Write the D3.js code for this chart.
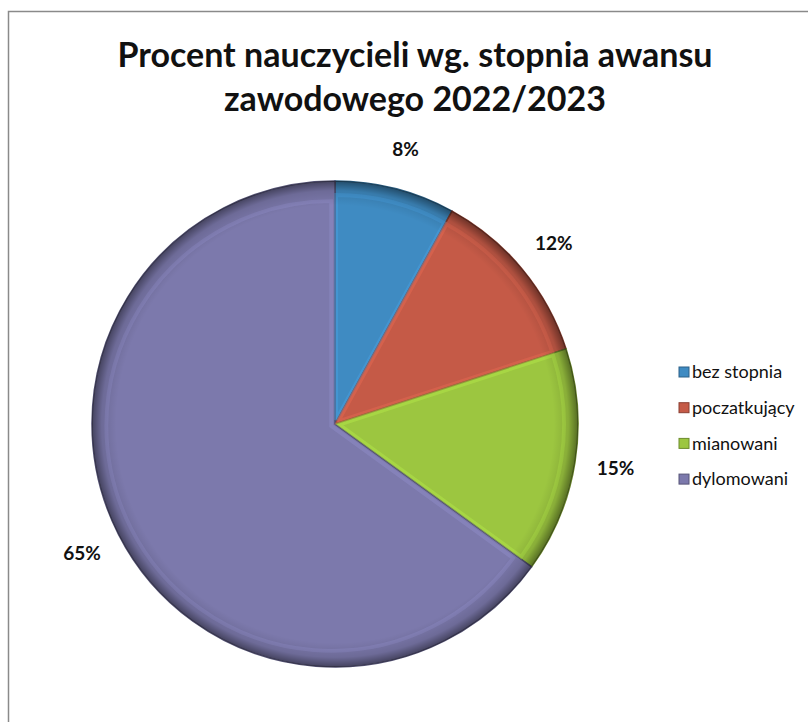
<!DOCTYPE html>
<html lang="pl">
<head>
<meta charset="utf-8">
<title>Procent nauczycieli</title>
<script src="https://cdn.jsdelivr.net/npm/d3@7"></script>
<style>
  body { margin: 0; background: #fff; }
  text { font-family: Lato, "Open Sans", sans-serif; }
</style>
</head>
<body>
<script>
// data
var categories = ["bez stopnia", "poczatkujący", "mianowani", "dylomowani"];
var values = [8, 12, 15, 65];
var colors = ["#3f8bc2", "#c55a47", "#9cc640", "#7c79ac"];
var titleLines = ["Procent nauczycieli wg. stopnia awansu", "zawodowego 2022/2023"];

var w = 808, h = 722;
var cx = 335, cy = 424, r = 243;

var svg = d3.select("body").append("svg")
    .attr("width", w)
    .attr("height", h);

// chart frame (cut off on right and bottom in the scan)
svg.append("path")
    .attr("d", "M8.5," + h + " V11.5 H" + w)
    .attr("fill", "none")
    .attr("stroke", "#8a8a8a")
    .attr("stroke-width", 1.5);

// title
svg.selectAll("text.title")
    .data(titleLines)
    .enter()
    .append("text")
    .attr("class", "title")
    .attr("x", 415)
    .attr("y", function(d, i) { return 67 + i * 44; })
    .attr("text-anchor", "middle")
    .attr("font-size", "34px")
    .attr("font-weight", "bold")
    .attr("fill", "#111")
    .text(function(d) { return d; });

var defs = svg.append("defs");
var grad = defs.append("radialGradient")
    .attr("id", "rim")
    .attr("cx", "50%").attr("cy", "50%").attr("r", "50%");
grad.append("stop").attr("offset", "0%").attr("stop-color", "#000").attr("stop-opacity", 0);
grad.append("stop").attr("offset", "90%").attr("stop-color", "#000").attr("stop-opacity", 0);
grad.append("stop").attr("offset", "96%").attr("stop-color", "#000").attr("stop-opacity", 0.12);
grad.append("stop").attr("offset", "100%").attr("stop-color", "#000").attr("stop-opacity", 0.45);

var pie = d3.pie().sort(null).value(function(d) { return d; });
var arcs = pie(values);
var arc = d3.arc().innerRadius(0).outerRadius(r);
var bevel = d3.arc().innerRadius(0).outerRadius(r - 10);
var labelArc = d3.arc().innerRadius(284).outerRadius(284);

var g = svg.append("g").attr("transform", "translate(" + cx + "," + cy + ")");

g.selectAll("path.slice")
    .data(arcs)
    .enter()
    .append("path")
    .attr("class", "slice")
    .attr("d", arc)
    .attr("fill", function(d, i) { return colors[i]; })
    .attr("stroke", function(d, i) { return d3.color(colors[i]).darker(1.2); })
    .attr("stroke-width", 1.5);

// soft highlight just inside each slice edge
g.selectAll("path.bevel")
    .data(arcs)
    .enter()
    .append("path")
    .attr("class", "bevel")
    .attr("d", bevel)
    .attr("fill", "none")
    .attr("stroke", function(d, i) { return d3.color(colors[i]).brighter(0.5); })
    .attr("stroke-opacity", 0.4)
    .attr("stroke-width", 4)
    .attr("transform", function(d) {
        var c = arc.centroid(d);
        var k = 0.035;
        return "translate(" + c[0] * k + "," + c[1] * k + ") scale(" + (1 - k) + ")";
    });

g.append("circle")
    .attr("r", r)
    .attr("fill", "url(#rim)");

// percentage labels
g.selectAll("text.pct")
    .data(arcs)
    .enter()
    .append("text")
    .attr("class", "pct")
    .attr("transform", function(d) { return "translate(" + labelArc.centroid(d) + ")"; })
    .attr("text-anchor", "middle")
    .attr("dy", "0.35em")
    .attr("font-size", "19px")
    .attr("font-weight", "bold")
    .attr("fill", "#111")
    .text(function(d) { return d.data + "%"; });

// legend
var legend = svg.selectAll("g.legend")
    .data(categories)
    .enter()
    .append("g")
    .attr("class", "legend")
    .attr("transform", function(d, i) { return "translate(679," + (372 + i * 35.7) + ")"; });

legend.append("rect")
    .attr("x", 0)
    .attr("y", -5)
    .attr("width", 10)
    .attr("height", 10)
    .attr("fill", function(d, i) { return colors[i]; })
    .attr("stroke", function(d, i) { return d3.color(colors[i]).darker(1); })
    .attr("stroke-width", 1);

legend.append("text")
    .attr("x", 13)
    .attr("dy", "0.35em")
    .attr("font-size", "18px")
    .attr("fill", "#111")
    .text(function(d) { return d; });
</script>
</body>
</html>
